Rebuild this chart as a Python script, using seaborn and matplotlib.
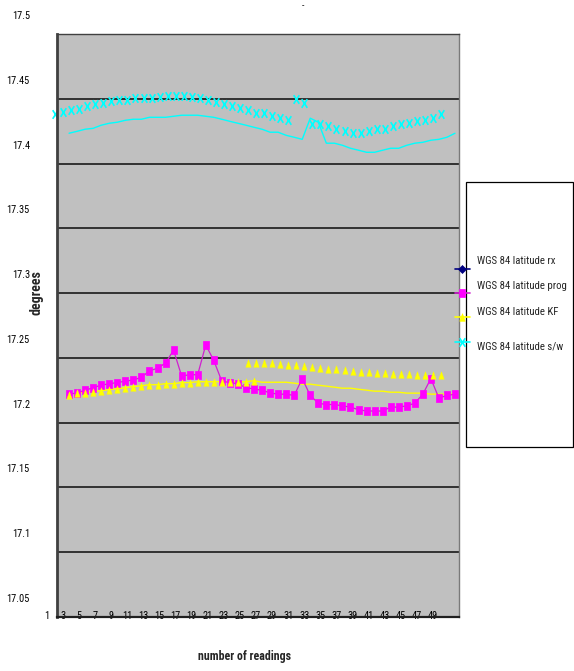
import matplotlib
matplotlib.use("Agg")
import matplotlib.pyplot as plt
from matplotlib import font_manager as fm
from matplotlib.transforms import ScaledTranslation
from matplotlib.lines import Line2D
from matplotlib.patches import Rectangle
from matplotlib.path import Path
import seaborn as sns

# ---------------------------------------------------------------- data
readings = list(range(2, 51))          # reading numbers that carry values

lat_rx = []                              # receiver fix: nothing inside the plotted range

lat_prog = [17.222, 17.223, 17.225, 17.227, 17.229, 17.230, 17.231, 17.232, 17.233, 17.235,
            17.240, 17.242, 17.246, 17.256, 17.236, 17.237, 17.237, 17.260, 17.248, 17.232,
            17.231, 17.230, 17.227, 17.226, 17.225, 17.223, 17.222, 17.222, 17.221, 17.234,
            17.221, 17.215, 17.214, 17.214, 17.213, 17.212, 17.210, 17.209, 17.209, 17.209,
            17.212, 17.212, 17.213, 17.215, 17.222, 17.234, 17.219, 17.221, 17.222]

lat_kf = [17.2216, 17.2231, 17.2231, 17.2239, 17.2247, 17.2255, 17.2262, 17.2270, 17.2278, 17.2285,
          17.2293, 17.2293, 17.2301, 17.2301, 17.2309, 17.2309, 17.2316, 17.2316, 17.2316, 17.2316,
          17.2316, 17.2316, 17.2316, 17.2324, 17.2312, 17.2312, 17.2312, 17.2312, 17.2305, 17.2297,
          17.2297, 17.2289, 17.2282, 17.2274, 17.2266, 17.2266, 17.2258, 17.2251, 17.2243, 17.2243,
          17.2235, 17.2235, 17.2228, 17.2228, 17.2228, 17.2220, 17.2220, 17.2220, 17.2220]

lat_sw = [17.4234, 17.4249, 17.4265, 17.4272, 17.4296, 17.4311, 17.4319, 17.4334, 17.4342, 17.4342,
          17.4357, 17.4357, 17.4357, 17.4365, 17.4373, 17.4373, 17.4373, 17.4365, 17.4357, 17.4342,
          17.4326, 17.4311, 17.4296, 17.4280, 17.4265, 17.4242, 17.4242, 17.4218, 17.4203, 17.4187,
          17.4350, 17.4319, 17.4157, 17.4157, 17.4141, 17.4118, 17.4103, 17.4087, 17.4087, 17.4103,
          17.4118, 17.4118, 17.4141, 17.4157, 17.4164, 17.4180, 17.4187, 17.4203, 17.4234]

series_names = ["WGS 84 latitude rx", "WGS 84 latitude prog",
                "WGS 84 latitude KF", "WGS 84 latitude s/w"]

y_ticks = [17.05, 17.1, 17.15, 17.2, 17.25, 17.3, 17.35, 17.4, 17.45, 17.5]
y_tick_labels = ["17.05", "17.1", "17.15", "17.2", "17.25", "17.3", "17.35", "17.4", "17.45", "17.5"]
x_label_positions = [1, 3, 5, 7, 9, 11, 13, 15, 17, 19, 21, 23, 25,
                     27, 29, 31, 33, 35, 37, 39, 41, 43, 45, 47, 49]
x_tick_labels = ["1", "3", "5", "7", "9", "11", "13", "15", "17", "19", "21", "23", "25",
                 "27", "29", "31", "33", "35", "37", "39", "41", "43", "45", "47", "49"]
kf_split = 24   # KF triangles after this many readings are drawn on the shifted layer


# ---------------------------------------------------------------- fonts
def first_available(families, default="Liberation Sans"):
    for fam in families:
        try:
            fm.findfont(fm.FontProperties(family=fam), fallback_to_default=False)
            return fam
        except ValueError:
            continue
    return default


sns.set_style("white")
NARROW = first_available(["Liberation Sans Narrow", "Roboto Condensed", "Noto Sans ExtraCondensed",
                          "Noto Sans Condensed", "Open Sans Condensed", "DejaVu Sans Condensed"])
plt.rcParams["font.family"] = [NARROW, "DejaVu Sans"]

W, H, DPI = 574, 671, 100
fig = plt.figure(figsize=(W / DPI, H / DPI), dpi=DPI)
fig.patch.set_facecolor("white")


def fx(x):
    return x / W


def fy(y):
    return 1 - y / H


ax = fig.add_axes([fx(57), fy(617), (459 - 57) / W, (617 - 34) / H])
ax.set_facecolor("#C0C0C0")

# offset layer used by the marker glyphs and the tick text
shift = ScaledTranslation(-14 / DPI, 19 / DPI, fig.dpi_scale_trans)

SQUARE = [(-3, -4), (3, -4), (3, 4), (-3, 4), (-3, -4)]
TRIANGLE = [(-2.6, -3.6), (2.6, -3.6), (0, 3.6), (-2.6, -3.6)]
CROSS = Path([(-2.6, -4), (2.6, 4), (-2.6, 4), (2.6, -4)],
             [Path.MOVETO, Path.LINETO, Path.MOVETO, Path.LINETO])
DIAMOND = "D"

C_RX, C_PROG, C_KF, C_SW = "#000080", "#FF00FF", "#FFFF00", "#00FFFF"
C_PROG_LINE = "#D020D0"

# ---------------------------------------------------------------- series
# s/w: plain line, its X markers sit on the shifted layer
sns.lineplot(x=readings, y=lat_sw, ax=ax, color=C_SW, lw=1.0, errorbar=None, legend=False)
sns.lineplot(x=readings, y=lat_sw, ax=ax, color=C_SW, linestyle="none", marker=CROSS,
             markersize=6.2, markerfacecolor="none", markeredgecolor=C_SW,
             markeredgewidth=1.2, errorbar=None, legend=False)
ax.lines[-1].set_transform(ax.transData + shift)
ax.lines[-1].set_clip_on(False)

# KF line
sns.lineplot(x=readings, y=lat_kf, ax=ax, color=C_KF, lw=1.0, errorbar=None, legend=False)

# prog: squares joined by a thin line
sns.lineplot(x=readings, y=lat_prog, ax=ax, color=C_PROG_LINE, lw=0.9, marker=SQUARE,
             markersize=6.0, markerfacecolor=C_PROG, markeredgecolor=C_PROG,
             markeredgewidth=0.5, errorbar=None, legend=False)

# KF triangles: first readings in place, the rest on the shifted layer
sns.lineplot(x=readings[:kf_split], y=lat_kf[:kf_split], ax=ax, color=C_KF,
             linestyle="none", marker=TRIANGLE, markersize=5.4, markerfacecolor=C_KF,
             markeredgecolor=C_KF, markeredgewidth=0.3, errorbar=None, legend=False)
sns.lineplot(x=readings[kf_split:], y=lat_kf[kf_split:], ax=ax, color=C_KF,
             linestyle="none", marker=TRIANGLE, markersize=5.4, markerfacecolor=C_KF,
             markeredgecolor=C_KF, markeredgewidth=0.3, errorbar=None, legend=False)
ax.lines[-1].set_transform(ax.transData + shift)

# rx has no visible samples
if lat_rx:
    sns.lineplot(x=readings[:len(lat_rx)], y=lat_rx, ax=ax, color=C_RX, marker=DIAMOND,
                 errorbar=None, legend=False)

# ---------------------------------------------------------------- axes
ax.set_xlim(0.5, 50.5)
ax.set_ylim(17.05, 17.5)

ax.set_yticks(y_ticks)
ax.set_yticklabels(y_tick_labels)
ax.yaxis.grid(True, color="#1A1A1A", lw=1.2)
ax.xaxis.grid(False)
ax.set_axisbelow(True)

ax.set_xticks(x_label_positions)
ax.set_xticklabels(x_tick_labels)
ax.set_xticks([b + 0.5 for b in range(0, 51)], minor=True)
ax.tick_params(axis="x", which="major", length=0, pad=9.5, labelsize=7.5, labelcolor="black")
ax.tick_params(axis="x", which="minor", length=5, width=1.0, direction="inout", color="#202020")
ax.tick_params(axis="y", which="major", length=4, width=1.0, direction="out", color="#303030",
               pad=5.5, labelsize=7.5, labelcolor="black")

for side, lw, col in [("left", 2.0, "#404040"), ("bottom", 1.6, "#202020"),
                      ("top", 1.0, "#404040"), ("right", 1.0, "#7A7A7A")]:
    ax.spines[side].set_visible(True)
    ax.spines[side].set_linewidth(lw)
    ax.spines[side].set_color(col)

xlab = ax.set_xlabel("number of readings", fontsize=11, fontweight="bold")
ax.xaxis.set_label_coords((245 - 57) / 402, (617 - 650) / 583)
ylab = ax.set_ylabel("degrees", fontsize=10, fontweight="bold")
ax.yaxis.set_label_coords((43 - 57) / 402, (617 - 293) / 583)

fig.text(fx(303), fy(6), "-", ha="center", va="center", fontsize=7)

# ---------------------------------------------------------------- legend
fig.add_artist(Rectangle((fx(466), fy(447)), (573 - 466) / W, (447 - 182) / H,
                         transform=fig.transFigure, facecolor="white",
                         edgecolor="black", lw=0.9))

key_styles = [
    (C_RX, C_RX, DIAMOND, 4.0, 269, 264),
    (C_PROG_LINE, C_PROG, SQUARE, 6.0, 293, 289),
    (C_KF, C_KF, TRIANGLE, 5.4, 317, 315),
    (C_SW, "none", CROSS, 6.2, 342, 350),
]
legend_texts = []
for name, (lc, fc, mk, ms, ky, ty) in zip(series_names, key_styles):
    ec = C_SW if mk is CROSS else fc
    fig.add_artist(Line2D([fx(455), fx(462), fx(470)], [fy(ky)] * 3,
                          transform=fig.transFigure, color=lc, lw=1.2,
                          marker=mk, markevery=[1], markersize=ms,
                          markerfacecolor=fc, markeredgecolor=ec,
                          markeredgewidth=1.2 if mk is CROSS else 0.5))
    legend_texts.append(fig.text(fx(477), fy(ty), name, ha="left", va="baseline", fontsize=11))

# ---------------------------------------------------------------- fit text widths
renderer = fig.canvas.get_renderer()


def fitted_size(text, target_px, max_pt):
    width = text.get_window_extent(renderer).width
    return min(max_pt, text.get_fontsize() * target_px / width)


legend_size = fitted_size(legend_texts[1], 90, 11)
for t in legend_texts:
    t.set_fontsize(legend_size)
xlab.set_fontsize(fitted_size(xlab, 92, 11))

for lab in ax.get_xticklabels() + ax.get_yticklabels():
    lab.set_transform(lab.get_transform() + shift)

fig.savefig("out.png", dpi=DPI)
